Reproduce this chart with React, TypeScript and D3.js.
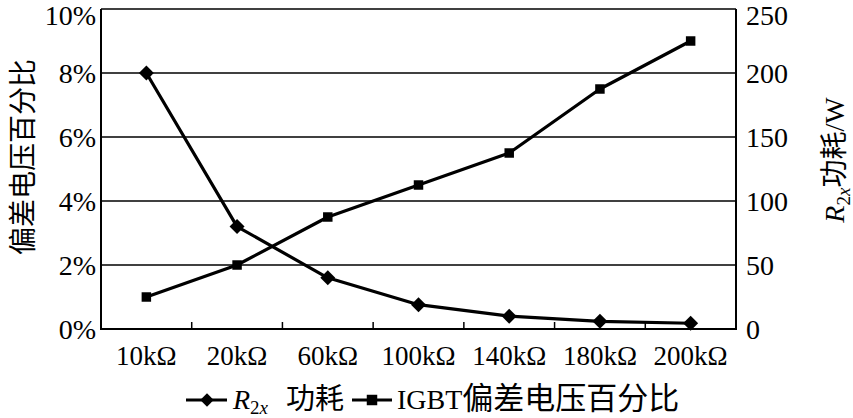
import React from 'react';
import * as d3 from 'd3';

const categories = ['10kΩ', '20kΩ', '60kΩ', '100kΩ', '140kΩ', '180kΩ', '200kΩ'];
const r2xPower = [200, 80, 40, 19, 10, 6, 4.5]; // W, right axis
const igbtDeviation = [1.0, 2.0, 3.5, 4.5, 5.5, 7.5, 9.0]; // %, left axis
const leftTicks = [0, 2, 4, 6, 8, 10];
const rightTicks = [0, 50, 100, 150, 200, 250];

const W = 853;
const H = 418;
const M = { left: 101, right: 736, top: 9, bottom: 329 };
const LATIN = "'Liberation Serif', 'Times New Roman', serif";
const MIXED = "'Liberation Serif', 'Noto Sans CJK SC', serif";
const CJK = "'Noto Sans CJK SC', sans-serif";

export default function App() {
  const x = d3.scaleBand<string>().domain(categories).range([M.left, M.right]).padding(0);
  const yL = d3.scaleLinear().domain([0, 10]).range([M.bottom, M.top]);
  const yR = d3.scaleLinear().domain([0, 250]).range([M.bottom, M.top]);
  const cx = (c: string) => (x(c) as number) + x.bandwidth() / 2;

  const powerLine = d3.line<number>().x((_, i) => cx(categories[i])).y((d) => yR(d));
  const devLine = d3.line<number>().x((_, i) => cx(categories[i])).y((d) => yL(d));
  const diamond = d3.symbol(d3.symbolSquare, 112)() as string;
  const legendDiamond = d3.symbol(d3.symbolSquare, 90)() as string;
  const square = d3.symbol(d3.symbolSquare, 90)() as string;
  const legendSquare = d3.symbol(d3.symbolSquare, 110)() as string;

  const boundaries = categories.slice(1).map((c) => x(c) as number);
  const labelY = (t: number, s: (v: number) => number) => Math.max(s(t), 15);

  return (
    <svg width={W} height={H} style={{ position: 'absolute', left: 0, top: 0, background: '#fff' }}>
      <rect x={0} y={0} width={W} height={H} fill="#fff" />
      {/* gridlines */}
      {leftTicks.slice(1).map((t) => (
        <line key={t} x1={M.left} x2={M.right} y1={yL(t)} y2={yL(t)} stroke="#000" strokeWidth={1.5} />
      ))}
      {/* frame */}
      <line x1={M.left} x2={M.left} y1={M.top} y2={M.bottom} stroke="#000" strokeWidth={2} />
      <line x1={M.right} x2={M.right} y1={M.top} y2={M.bottom} stroke="#000" strokeWidth={2} />
      <line x1={M.left - 1} x2={M.right + 1} y1={M.bottom} y2={M.bottom} stroke="#000" strokeWidth={2} />
      {/* x ticks (inside) */}
      {boundaries.map((b, i) => (
        <line key={i} x1={b} x2={b} y1={M.bottom} y2={M.bottom - 7} stroke="#000" strokeWidth={1.5} />
      ))}
      {/* left tick labels */}
      {leftTicks.map((t) => (
        <text key={t} x={96} y={labelY(t, yL)} dy="0.35em" textAnchor="end" fontFamily={LATIN} fontSize={28}>
          {t + '%'}
        </text>
      ))}
      {/* right tick labels */}
      {rightTicks.map((t) => (
        <text key={t} x={746} y={labelY(t, yR)} dy="0.35em" textAnchor="start" fontFamily={LATIN} fontSize={28}>
          {t}
        </text>
      ))}
      {/* x labels */}
      {categories.map((c) => (
        <text key={c} x={cx(c)} y={365} textAnchor="middle" fontFamily={LATIN} fontSize={27}>
          {c}
        </text>
      ))}
      {/* lines */}
      <path d={powerLine(r2xPower) as string} fill="none" stroke="#000" strokeWidth={3.2} strokeLinejoin="round" />
      <path d={devLine(igbtDeviation) as string} fill="none" stroke="#000" strokeWidth={3.2} strokeLinejoin="round" />
      {r2xPower.map((v, i) => (
        <path key={'d' + i} d={diamond} transform={`translate(${cx(categories[i])},${yR(v)}) rotate(45)`} fill="#000" />
      ))}
      {igbtDeviation.map((v, i) => (
        <path key={'s' + i} d={square} transform={`translate(${cx(categories[i])},${yL(v)})`} fill="#000" />
      ))}
      {/* left axis title */}
      <text transform="translate(33,157) rotate(-90)" textAnchor="middle" fontFamily={CJK} fontSize={28}>
        偏差电压百分比
      </text>
      {/* right axis title */}
      <text transform="translate(844,160) rotate(-90)" textAnchor="middle" fontFamily={MIXED} fontSize={28}>
        <tspan fontStyle="italic">R</tspan>
        <tspan fontSize={19} dy={6}>2</tspan>
        <tspan fontSize={19} fontStyle="italic">x</tspan>
        <tspan dy={-6} fontFamily={CJK}>功耗</tspan>
        <tspan>/W</tspan>
      </text>
      {/* legend */}
      <line x1={186} x2={227} y1={400} y2={400} stroke="#000" strokeWidth={3.2} />
      <path d={legendDiamond} transform="translate(207,400) rotate(45)" fill="#000" />
      <text x={233} y={409} fontFamily={MIXED} fontSize={28}>
        <tspan fontStyle="italic">R</tspan>
        <tspan fontSize={19} dy={5}>2</tspan>
        <tspan fontSize={19} fontStyle="italic">x</tspan>
      </text>
      <text x={286} y={409} fontFamily={CJK} fontSize={29}>
        功耗
      </text>
      <line x1={352} x2={392} y1={400} y2={400} stroke="#000" strokeWidth={3.2} />
      <path d={legendSquare} transform="translate(372,400)" fill="#000" />
      <text x={397} y={409} fontFamily={MIXED} fontSize={28}>
        <tspan>IGBT</tspan>
        <tspan fontFamily={CJK} fontSize={31}>偏差电压百分比</tspan>
      </text>
    </svg>
  );
}
